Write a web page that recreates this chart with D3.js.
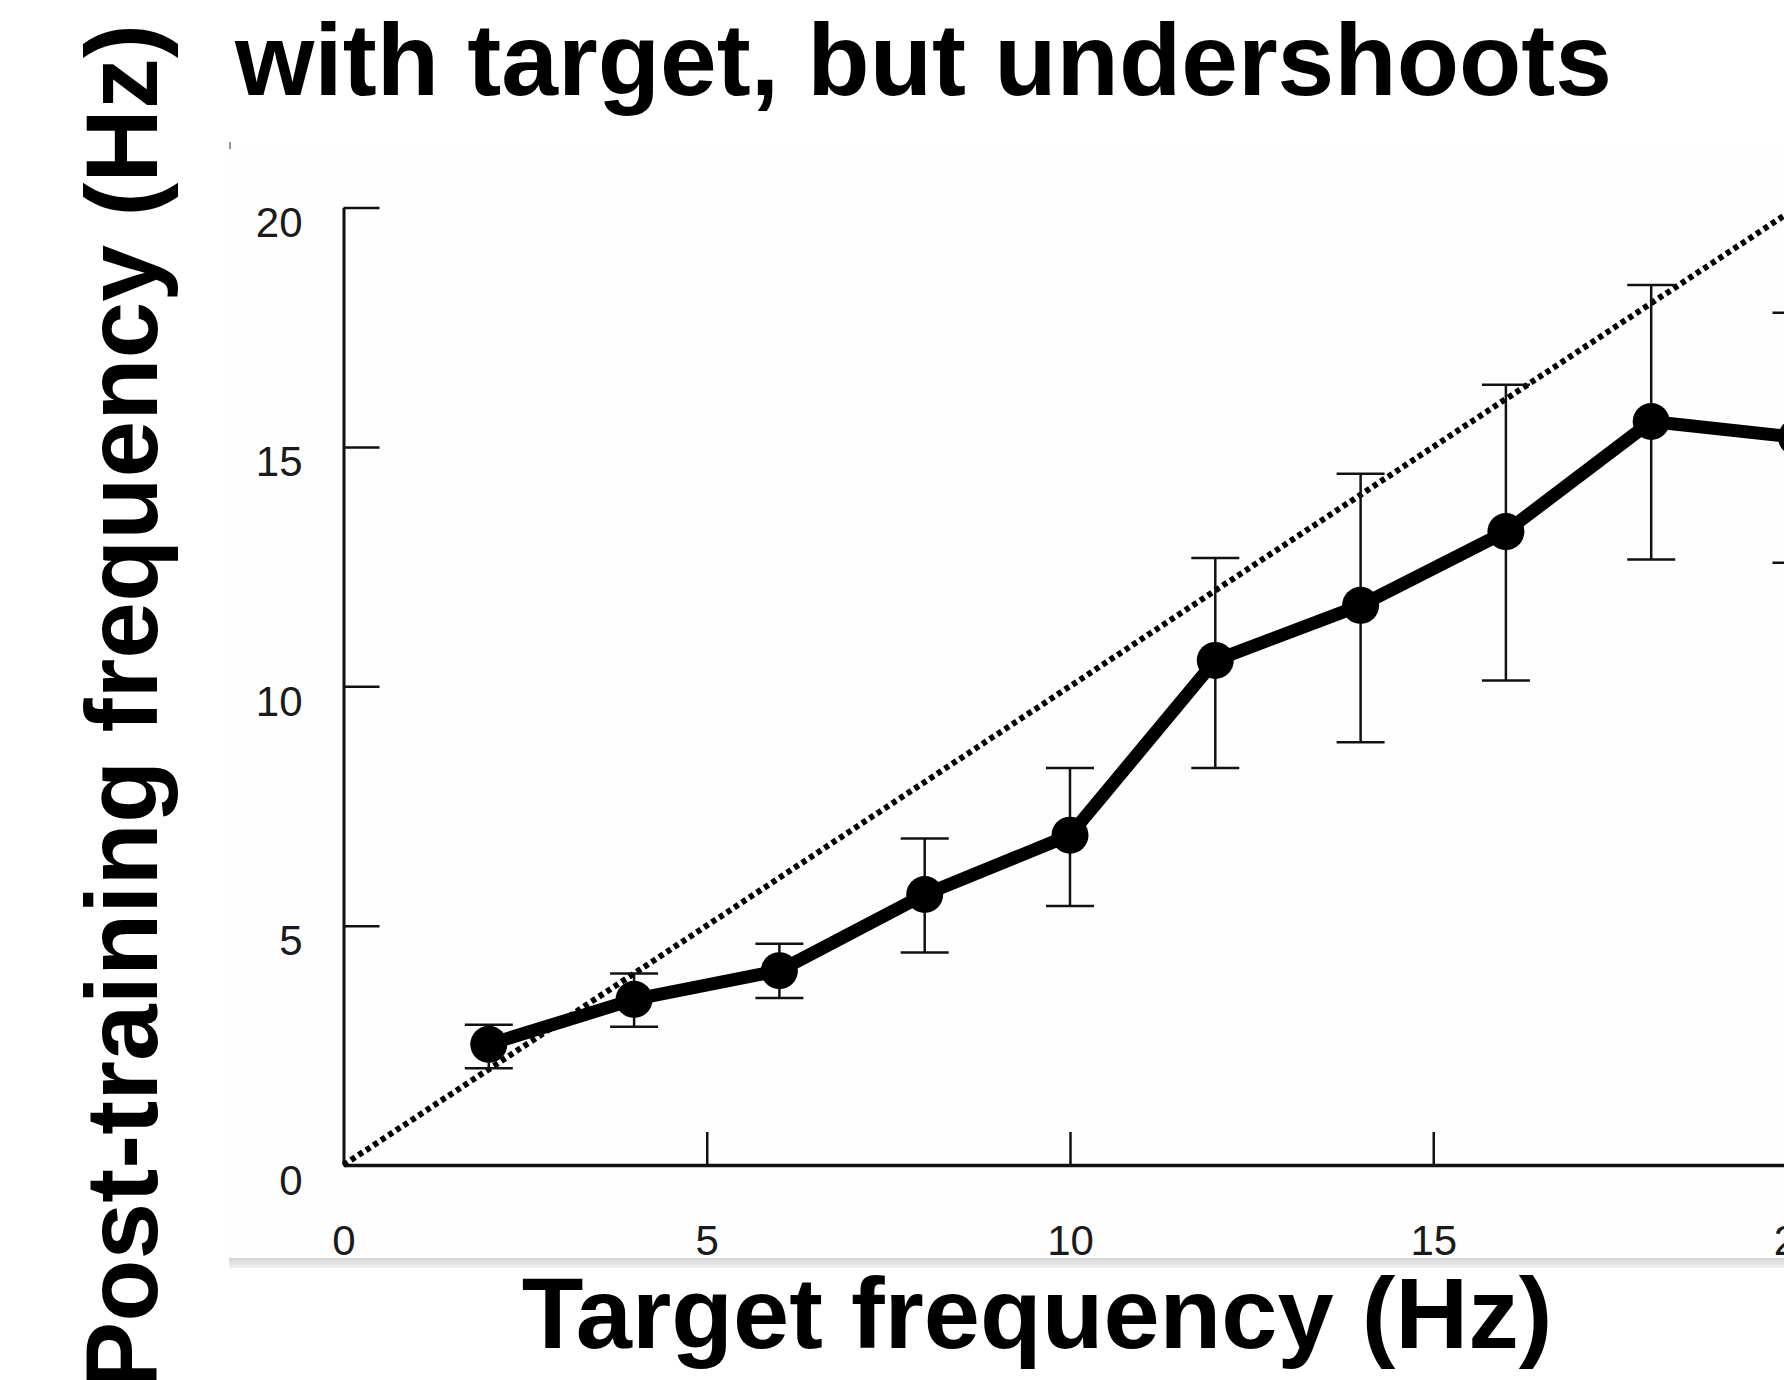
<!DOCTYPE html>
<html lang="en">
<head>
    <meta charset="UTF-8">
    <script src="https://d3js.org/d3.v7.min.js"></script>
    <style>
        html, body { margin: 0; padding: 0; background: #fff; overflow: hidden; }
        svg { display: block; }
    </style>
    <title>Target vs post-training frequency</title>
</head>
<body>
    <script type="text/javascript">
    // data
    const targets = [2, 4, 6, 8, 10, 12, 14, 16, 18, 20];
    const means   = [2.52, 3.46, 4.06, 5.65, 6.89, 10.54, 11.69, 13.23, 15.53, 15.2];
    const upper   = [2.93, 4.0, 4.62, 6.82, 8.29, 12.68, 14.44, 16.3, 18.38, 17.8];
    const lower   = [2.02, 2.89, 3.49, 4.44, 5.41, 8.29, 8.83, 10.12, 12.65, 12.58];
    const identity = [0, 20];          // dotted y = x reference line
    const xTicks = [0, 5, 10, 15, 20];
    const yTicks = [0, 5, 10, 15, 20];

    const w = 1784;
    const h = 1380;

    const x = d3.scaleLinear([0, 20], [343.5, 1796.5]);
    const y = d3.scaleLinear([0, 20], [1165, 207.5]);

    const svg = d3.select("body")
        .append("svg")
        .attr("width", w)
        .attr("height", h);

    // faint panel of the pasted plot + grey bottom edge
    svg.append("rect")
        .attr("x", 229).attr("y", 142)
        .attr("width", w - 229).attr("height", 1116)
        .attr("fill", "#fefefe");
    const grad = svg.append("defs").append("linearGradient")
        .attr("id", "edge").attr("x1", 0).attr("y1", 0).attr("x2", 0).attr("y2", 1);
    grad.append("stop").attr("offset", "0%").attr("stop-color", "#d4d4d4");
    grad.append("stop").attr("offset", "100%").attr("stop-color", "#f0f0f0");
    svg.append("rect")
        .attr("x", 229).attr("y", 1258)
        .attr("width", w - 229).attr("height", 10)
        .attr("fill", "url(#edge)");
    svg.append("rect")
        .attr("x", 229).attr("y", 142)
        .attr("width", 2).attr("height", 7)
        .attr("fill", "#999");

    // axes
    const yAxis = svg.append("g")
        .attr("transform", "translate(" + x(0) + ",0)")
        .call(d3.axisLeft(y).tickValues(yTicks).tickSize(-36).tickSizeOuter(0).tickPadding(41));
    const xAxis = svg.append("g")
        .attr("transform", "translate(0," + y(0) + ")")
        .call(d3.axisBottom(x).tickValues(xTicks).tickSize(-33).tickSizeOuter(0));

    yAxis.select(".domain").attr("stroke", "#111").attr("stroke-width", 3);
    xAxis.select(".domain").attr("stroke", "#111").attr("stroke-width", 3.3);
    svg.selectAll(".tick line").attr("stroke", "#111").attr("stroke-width", 2.5);
    xAxis.selectAll(".tick").filter(function(d) { return d === 0; }).select("line").remove();

    yAxis.selectAll("text")
        .attr("dy", null)
        .attr("y", 29)
        .attr("font-family", "'Liberation Sans', Arial, sans-serif")
        .attr("font-size", "42px")
        .attr("fill", "#1a1a1a");
    xAxis.selectAll("text")
        .attr("dy", null)
        .attr("y", 90)
        .attr("font-family", "'Liberation Sans', Arial, sans-serif")
        .attr("font-size", "42px")
        .attr("fill", "#1a1a1a");

    // dotted identity line
    svg.append("line")
        .attr("x1", x(identity[0])).attr("y1", y(identity[0]))
        .attr("x2", x(identity[1])).attr("y2", y(identity[1]))
        .attr("stroke", "#000")
        .attr("stroke-width", 6)
        .attr("stroke-dasharray", "5,4");

    // error bars
    const capW = 24;
    const eb = svg.append("g").attr("stroke", "#111").attr("stroke-width", 2.5);
    targets.forEach(function(t, i) {
        eb.append("line")
            .attr("x1", x(t)).attr("x2", x(t))
            .attr("y1", y(upper[i])).attr("y2", y(lower[i]));
        eb.append("line")
            .attr("x1", x(t) - capW).attr("x2", x(t) + capW)
            .attr("y1", y(upper[i])).attr("y2", y(upper[i]));
        eb.append("line")
            .attr("x1", x(t) - capW).attr("x2", x(t) + capW)
            .attr("y1", y(lower[i])).attr("y2", y(lower[i]));
    });

    // mean line + markers
    const line = d3.line()
        .x(function(d, i) { return x(targets[i]); })
        .y(function(d) { return y(d); });
    svg.append("path")
        .datum(means)
        .attr("d", line)
        .attr("fill", "none")
        .attr("stroke", "#000")
        .attr("stroke-width", 13)
        .attr("stroke-linejoin", "round");
    svg.selectAll("circle.pt")
        .data(means)
        .enter()
        .append("circle")
        .attr("class", "pt")
        .attr("cx", function(d, i) { return x(targets[i]); })
        .attr("cy", function(d) { return y(d); })
        .attr("r", 18.5)
        .attr("fill", "#000");

    // titles
    svg.append("text")
        .text("with target, but undershoots")
        .attr("x", 235).attr("y", 95)
        .attr("font-family", "'Liberation Sans', Arial, sans-serif")
        .attr("font-weight", "bold")
        .attr("font-size", "102px")
        .attr("fill", "#000");
    svg.append("text")
        .text("Target frequency (Hz)")
        .attr("x", 1037).attr("y", 1348)
        .attr("text-anchor", "middle")
        .attr("font-family", "'Liberation Sans', Arial, sans-serif")
        .attr("font-weight", "bold")
        .attr("font-size", "101px")
        .attr("fill", "#000");
    svg.append("text")
        .text("Post-training frequency (Hz)")
        .attr("transform", "translate(157,24) rotate(-90)")
        .attr("text-anchor", "end")
        .attr("font-family", "'Liberation Sans', Arial, sans-serif")
        .attr("font-weight", "bold")
        .attr("font-size", "102px")
        .attr("fill", "#000");
    </script>
</body>
</html>
